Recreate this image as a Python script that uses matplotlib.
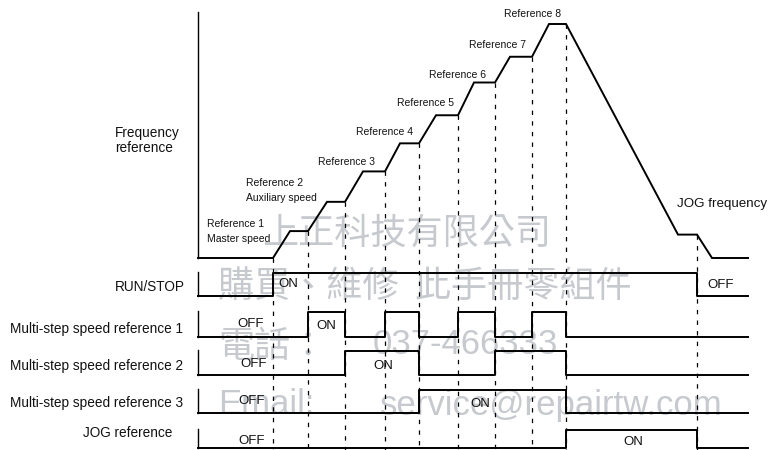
import matplotlib

matplotlib.use("Agg")

import matplotlib.pyplot as plt

# time axis (arbitrary units), each step change of the frequency reference
step_times = [0, 75, 110, 147, 187, 221, 260, 297, 334, 368, 499, 550]

# frequency trace (percent of reference 8)
freq_t = [0, 75, 92, 110, 129, 147, 165, 187, 202, 221, 238, 260, 276,
          297, 312, 334, 351, 368, 480, 499, 514, 550]
freq_v = [0, 0, 11.5, 11.5, 24, 24, 37, 37, 49, 49, 61, 61, 75, 75,
          86, 86, 100, 100, 10, 10, 0, 0]

# dashed marker lines: time and frequency level where they start
marker_t = [75, 110, 147, 187, 221, 260, 297, 334, 368, 499]
marker_v = [0, 11.5, 24, 37, 49, 61, 75, 86, 100, 10]

ref_labels = ["Reference 1\nMaster speed", "Reference 2\nAuxiliary speed",
              "Reference 3", "Reference 4", "Reference 5", "Reference 6",
              "Reference 7", "Reference 8"]

signal_names = ["RUN/STOP", "Multi-step speed reference 1",
                "Multi-step speed reference 2", "Multi-step speed reference 3",
                "JOG reference"]
run_stop = [0, 1, 1, 1, 1, 1, 1, 1, 1, 1, 0]
multi_1 = [0, 0, 1, 0, 1, 0, 1, 0, 1, 0, 0]
multi_2 = [0, 0, 0, 1, 1, 0, 0, 1, 1, 0, 0]
multi_3 = [0, 0, 0, 0, 0, 1, 1, 1, 1, 0, 0]
jog = [0, 0, 0, 0, 0, 0, 0, 0, 0, 1, 0]
signals = [run_stop, multi_1, multi_2, multi_3, jog]

W, H = 772, 450
FONT = "Liberation Sans"
CJK = ["Noto Sans CJK TC", "DejaVu Sans"]


def fx(x):
    return x / W


def fy(y):
    return 1 - y / H


def text(x, y, s, size=10, ha="left", **kw):
    fig.text(fx(x), fy(y), s, fontsize=size, ha=ha, va="center",
             family=FONT, color="#111111", **kw)


fig = plt.figure(figsize=(W / 100, H / 100), dpi=100)

left, width = fx(198), 550 / W
px_per_unit = 2.34

# frequency panel
ax = fig.add_axes([left, fy(258), width, 246 / H])
ax.set_xlim(0, 550)
ax.set_ylim(0, 246 / px_per_unit)
ax.axis("off")
ax.plot([0, 0], [0, 246 / px_per_unit], color="black", lw=1.0, clip_on=False)
ax.plot(freq_t, freq_v, color="black", lw=1.4, clip_on=False,
        solid_joinstyle="miter")
bottom = -(H - 258) / px_per_unit
for t, v in zip(marker_t, marker_v):
    ax.plot([t, t], [v, bottom], color="black", lw=0.9, dashes=(3.5, 5),
            clip_on=False)

# reference labels
ref_pos = [(207, 224), (246, 183), (318, 162), (356, 132), (397, 103),
           (429, 75), (469, 45), (504, 14)]
for (x, y), s in zip(ref_pos, ref_labels):
    if "\n" in s:
        a, b = s.split("\n")
        text(x, y, a, size=7.5)
        text(x, y + 15, b, size=7.5)
    else:
        text(x, y, s, size=7.5)
text(677, 204, "JOG frequency", size=9.6)
text(115, 133, "Frequency", size=9.8)
text(115, 148, "reference", size=9.8)

# signal panels: (high y, low y) in pixels
rows = [(273, 296), (312, 337), (351, 375), (390, 413), (430, 448)]
name_pos = [(185, 287), (183, 329), (183, 366), (183, 403), (172, 433)]
for (hi, lo), states, name, (nx, ny) in zip(rows, signals, signal_names, name_pos):
    sa = fig.add_axes([left, fy(lo), width, (lo - hi) / H])
    sa.set_xlim(0, 550)
    sa.set_ylim(0, 1)
    sa.axis("off")
    sa.plot([0, 0], [0, 1.05], color="black", lw=1.0, clip_on=False)
    sa.step(step_times, states + [states[-1]], where="post", color="black",
            lw=1.4, clip_on=False)
    text(nx, ny, name, size=9.8, ha="right")

# ON / OFF labels
state_labels = [
    (278, 284, "ON"), (707, 285, "OFF"),
    (237, 324, "OFF"), (316, 326, "ON"),
    (240, 364, "OFF"), (373, 366, "ON"),
    (238, 401, "OFF"), (470, 404, "ON"),
    (238, 441, "OFF"), (623, 442, "ON"),
]
for x, y, s in state_labels:
    text(x, y, s, size=9.5)

# watermark
wm_cjk = [(262, 234, "上正科技有限公司"), (218, 287, "購買、維修  此手冊零組件"),
          (218, 347, "電話：")]
wm_latin = [(373, 344, "037-466333"), (218, 405, "Email:"),
            (380, 405, "service@repairtw.com")]
for x, y, s in wm_cjk:
    fig.text(fx(x), fy(y), s, fontsize=26, family=CJK, color="#c6c9ce",
             ha="left", va="center", zorder=-1)
for x, y, s in wm_latin:
    fig.text(fx(x), fy(y), s, fontsize=25, family=FONT, color="#c6c9ce",
             ha="left", va="center", zorder=-1)

fig.savefig("out.png", dpi=100)
